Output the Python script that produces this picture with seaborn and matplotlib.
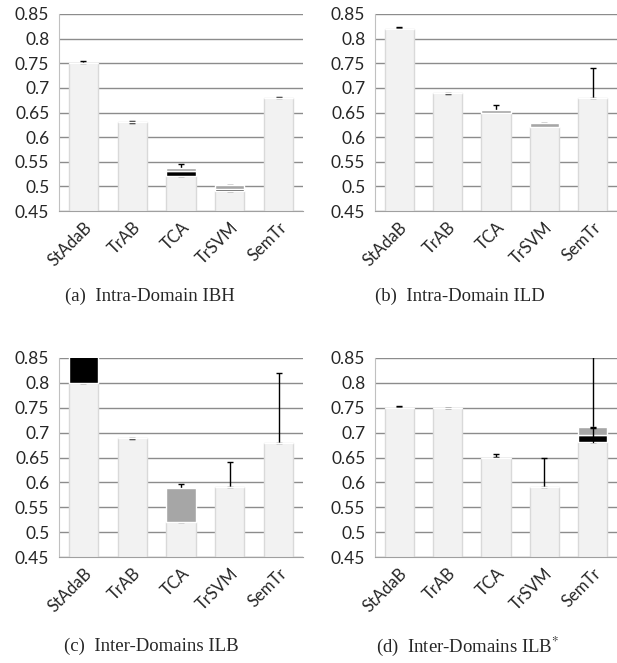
import numpy as np
import pandas as pd
import matplotlib
matplotlib.use("Agg")
import matplotlib.pyplot as plt
import seaborn as sns

# Methods on the x axis
methods = ["StAdaB", "TrAB", "TCA", "TrSVM", "SemTr"]

# Per panel: light base top, black segment top, gray segment top, error bar low/high
ibh_base = [0.750, 0.630, 0.521, 0.4915, 0.680]
ibh_black = [0.750, 0.630, 0.532, 0.495, 0.680]
ibh_gray = [0.750, 0.630, 0.538, 0.502, 0.680]
ibh_err_lo = [0.751, 0.629, 0.521, 0.4915, 0.679]
ibh_err_hi = [0.754, 0.632, 0.546, 0.503, 0.681]

ild_base = [0.820, 0.690, 0.650, 0.621, 0.680]
ild_black = [0.820, 0.690, 0.650, 0.621, 0.680]
ild_gray = [0.820, 0.690, 0.656, 0.629, 0.680]
ild_err_lo = [0.821, 0.688, 0.651, 0.622, 0.680]
ild_err_hi = [0.824, 0.690, 0.666, 0.628, 0.741]

ilb_base = [0.800, 0.690, 0.521, 0.590, 0.680]
ilb_black = [0.870, 0.690, 0.521, 0.590, 0.680]
ilb_gray = [0.870, 0.690, 0.589, 0.590, 0.680]
ilb_err_lo = [0.800, 0.688, 0.521, 0.590, 0.680]
ilb_err_hi = [0.860, 0.690, 0.596, 0.640, 0.820]

ilbs_base = [0.750, 0.750, 0.650, 0.590, 0.682]
ilbs_black = [0.750, 0.750, 0.650, 0.590, 0.695]
ilbs_gray = [0.750, 0.750, 0.650, 0.590, 0.711]
ilbs_err_lo = [0.751, 0.749, 0.651, 0.590, 0.681]
ilbs_err_hi = [0.754, 0.750, 0.657, 0.650, 0.900]

captions = ["(a)  Intra-Domain IBH", "(b)  Intra-Domain ILD",
            "(c)  Inter-Domains ILB", r"(d)  Inter-Domains ILB$^{*}$"]

yticks = [0.45, 0.5, 0.55, 0.6, 0.65, 0.7, 0.75, 0.8, 0.85]

panels = [
    (ibh_base, ibh_black, ibh_gray, ibh_err_lo, ibh_err_hi),
    (ild_base, ild_black, ild_gray, ild_err_lo, ild_err_hi),
    (ilb_base, ilb_black, ilb_gray, ilb_err_lo, ilb_err_hi),
    (ilbs_base, ilbs_black, ilbs_gray, ilbs_err_lo, ilbs_err_hi),
]

sns.set_style("white")
plt.rcParams["font.family"] = ["Lato", "DejaVu Sans"]
plt.rcParams["mathtext.fontset"] = "stix"

W, H = 617, 663
fig = plt.figure(figsize=(W / 100, H / 100), dpi=100)

# axes rectangles in pixels: left, right, top, bottom
boxes = [(59, 303, 14, 211), (375, 617, 14, 211),
         (59, 303, 358, 557), (375, 617, 358, 557)]
cap_pos = [(150, 296), (460, 296), (151, 646), (468, 646)]

grid_c = "#8c8c8c"
for i, (base, black, gray, elo, ehi) in enumerate(panels):
    l, r, t, b = boxes[i]
    ax = fig.add_axes([l / W, 1 - b / H, (r - l) / W, (b - t) / H])
    df = pd.DataFrame({"method": methods, "base": base, "black": black,
                       "gray": gray, "lo": elo, "hi": ehi})
    sns.barplot(data=df, x="method", y="base", color="#f2f2f2", width=0.6,
                saturation=1, edgecolor="#d9d9d9", linewidth=1, ax=ax, zorder=2)
    xs = np.arange(len(methods))
    mid = (df["lo"] + df["hi"]) / 2
    ax.errorbar(xs, mid, yerr=[mid - df["lo"], df["hi"] - mid], fmt="none",
                ecolor="black", elinewidth=1, capsize=2.5, capthick=1, zorder=3)
    # stacked segments on top of the base bars
    ax.bar(xs, df["black"] - df["base"], bottom=df["base"], width=0.6,
           color="#000000", zorder=4)
    ax.bar(xs, df["gray"] - df["black"], bottom=df["black"], width=0.6,
           color="#a6a6a6", zorder=4)
    if i == 3:
        # cap of the top segment of SemTr
        ax.errorbar([4], [0.710], yerr=[[0.001], [0.001]], fmt="none",
                    ecolor="black", elinewidth=1, capsize=2.5, capthick=1, zorder=5)
        ax.plot([4, 4], [0.682, 0.711], color="black", lw=1, zorder=5)

    ax.set_xlim(-0.5, 4.5)
    ax.set_ylim(0.45, 0.85)
    ax.set_yticks(yticks)
    ax.set_yticklabels([f"{v:g}" for v in yticks], fontsize=12.5)
    ax.set_xticks(xs)
    ax.set_xticklabels(methods, rotation=45, ha="right", rotation_mode="anchor",
                       fontsize=12)
    ax.set_xticks(np.arange(-0.5, 5, 1), minor=True)
    ax.tick_params(axis="x", which="major", length=0, pad=6)
    ax.tick_params(axis="x", which="minor", length=5, color="#a0a0a0", width=1)
    ax.tick_params(axis="y", length=4, color=grid_c, width=1, pad=3)
    ax.set_xlabel("")
    ax.set_ylabel("")
    ax.yaxis.grid(True, color=grid_c, linewidth=1)
    ax.set_axisbelow(True)
    for side in ["top", "right"]:
        ax.spines[side].set_visible(False)
    ax.spines["left"].set_color("#c0c0c0")
    ax.spines["bottom"].set_color("#a0a0a0")

    cx, cy = cap_pos[i]
    fig.text(cx / W, 1 - cy / H, captions[i], ha="center", va="center",
             fontsize=13.5, family="Liberation Serif")

fig.savefig("out.png", dpi=100)
